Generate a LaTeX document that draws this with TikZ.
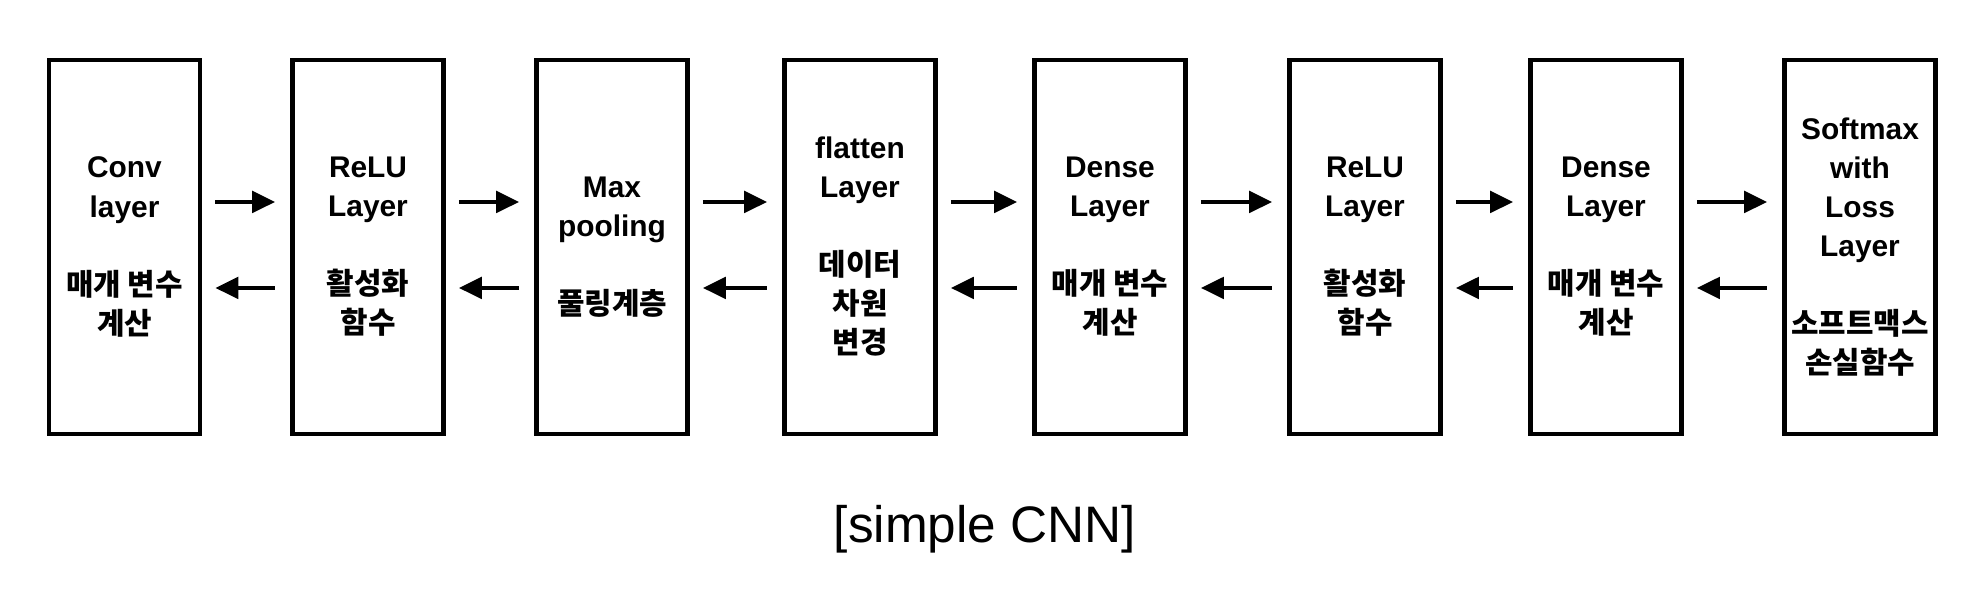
\documentclass[tikz,border=0pt]{standalone}
\usepackage{fontspec}
\setmainfont{Liberation Sans}
\newfontfamily\kor[Scale=1.0]{Noto Sans CJK KR}
\usetikzlibrary{positioning, arrows.meta}

\begin{document}
\begin{tikzpicture}[
    >={Triangle[length=2.3mm, width=2.1mm]},
    node distance=2.48cm,
    on grid,
    layer/.style={
        draw,
        rectangle,
        line width=1.3pt,
        minimum width=1.51cm,
        minimum height=3.74cm,
        align=center,
        inner sep=0pt,
        font=\fontsize{8.5}{11.1}\selectfont\bfseries
    },
    fwd/.style={->, line width=1.4pt, shorten <=1.3mm, shorten >=1.5mm},
    bwd/.style={<-, line width=1.4pt, shorten <=1.3mm, shorten >=1.5mm}
]
\useasboundingbox (0,0) rectangle (19.8,6.1);

% layers
\node[layer] (conv) at (1.245,3.63) {Conv\\layer\\[11.1pt]{\kor 매개 변수}\\{\kor 계산}};
\node[layer, right=2.435cm of conv] (relu1) {ReLU\\Layer\\[11.1pt]{\kor 활성화}\\{\kor 함수}};
\node[layer, right=2.44cm of relu1] (pool) {Max\\pooling\\[11.1pt]{\kor 풀링계층}};
\node[layer, right=2.48cm of pool] (flat) {flatten\\Layer\\[11.1pt]{\kor 데이터}\\{\kor 차원}\\{\kor 변경}};
\node[layer, right=2.5cm of flat] (dense1) {Dense\\Layer\\[11.1pt]{\kor 매개 변수}\\{\kor 계산}};
\node[layer, right=2.55cm of dense1] (relu2) {ReLU\\Layer\\[11.1pt]{\kor 활성화}\\{\kor 함수}};
\node[layer, right=2.41cm of relu2] (dense2) {Dense\\Layer\\[11.1pt]{\kor 매개 변수}\\{\kor 계산}};
\node[layer, right=2.54cm of dense2] (loss) {Softmax\\with\\Loss\\Layer\\[11.1pt]{\kor 소프트맥스}\\{\kor 손실함수}};
% caption
\node[font=\fontsize{14.6}{17.5}\selectfont] (title) at (9.85,0.81) {[simple CNN]};
% forward pass
\path[fwd]
([yshift=4.5mm]conv.east) edge ([yshift=4.5mm]relu1.west)
([yshift=4.5mm]relu1.east) edge ([yshift=4.5mm]pool.west)
([yshift=4.5mm]pool.east) edge ([yshift=4.5mm]flat.west)
([yshift=4.5mm]flat.east) edge ([yshift=4.5mm]dense1.west)
([yshift=4.5mm]dense1.east) edge ([yshift=4.5mm]relu2.west)
([yshift=4.5mm]relu2.east) edge ([yshift=4.5mm]dense2.west)
([yshift=4.5mm]dense2.east) edge ([yshift=4.5mm]loss.west);
% backward pass
\path[bwd]
([yshift=-4.1mm]conv.east) edge ([yshift=-4.1mm]relu1.west)
([yshift=-4.1mm]relu1.east) edge ([yshift=-4.1mm]pool.west)
([yshift=-4.1mm]pool.east) edge ([yshift=-4.1mm]flat.west)
([yshift=-4.1mm]flat.east) edge ([yshift=-4.1mm]dense1.west)
([yshift=-4.1mm]dense1.east) edge ([yshift=-4.1mm]relu2.west)
([yshift=-4.1mm]relu2.east) edge ([yshift=-4.1mm]dense2.west)
([yshift=-4.1mm]dense2.east) edge ([yshift=-4.1mm]loss.west);
\end{tikzpicture}
\end{document}
